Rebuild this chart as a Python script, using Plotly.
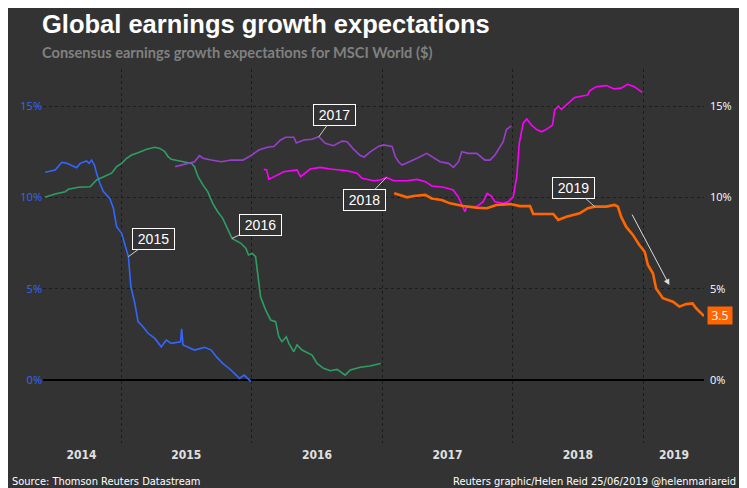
import plotly.graph_objects as go

# consensus earnings growth expectations, %
d2015 = ['2014-06-02', '2014-06-30', '2014-07-19', '2014-08-02', '2014-08-29', '2014-09-08',
         '2014-09-26', '2014-10-03', '2014-10-10', '2014-10-18', '2014-10-24', '2014-11-02',
         '2014-11-12', '2014-11-30', '2014-12-10', '2014-12-19', '2015-01-02', '2015-01-11',
         '2015-01-21', '2015-01-28', '2015-02-08', '2015-02-17', '2015-03-03', '2015-03-17',
         '2015-04-05', '2015-04-23', '2015-05-07', '2015-05-21', '2015-06-16', '2015-06-19',
         '2015-06-23', '2015-07-25', '2015-08-22', '2015-09-10', '2015-09-24', '2015-10-12',
         '2015-11-04', '2015-11-28', '2015-12-11', '2015-12-30']
v2015 = [11.38, 11.5, 11.93, 11.87, 11.63, 11.87,
         12.0, 11.87, 12.05, 11.78, 11.33, 10.78,
         10.32, 9.95, 9.41, 8.4, 8.04, 7.49,
         6.76, 5.11, 4.2, 3.2, 2.92, 2.56,
         2.28, 1.82, 2.19, 2.01, 2.1, 2.8,
         1.92, 1.64, 1.79, 1.64, 1.28, 0.91,
         0.55, 0.09, 0.27, -0.09]

d2016 = ['2014-06-01', '2014-06-30', '2014-07-28', '2014-08-06', '2014-09-03', '2014-10-06',
         '2014-10-24', '2014-11-12', '2014-12-05', '2014-12-19', '2015-01-02', '2015-01-16',
         '2015-01-30', '2015-02-17', '2015-03-13', '2015-04-05', '2015-04-19', '2015-05-03',
         '2015-05-12', '2015-05-21', '2015-06-09', '2015-07-02', '2015-07-17', '2015-07-25',
         '2015-08-04', '2015-08-18', '2015-08-31', '2015-09-14', '2015-09-28', '2015-10-12',
         '2015-10-26', '2015-11-07', '2015-12-02', '2015-12-16', '2015-12-23', '2016-01-03',
         '2016-01-12', '2016-01-18', '2016-01-26', '2016-02-09', '2016-02-23', '2016-03-08',
         '2016-03-17', '2016-03-26', '2016-04-07', '2016-04-14', '2016-04-28', '2016-05-07',
         '2016-05-21', '2016-06-18', '2016-07-02', '2016-07-20', '2016-08-08', '2016-08-27',
         '2016-09-19', '2016-10-03', '2016-10-31', '2016-11-27', '2016-12-27']
v2016 = [10.01, 10.19, 10.32, 10.45, 10.56, 10.59,
         10.96, 11.14, 11.33, 11.69, 11.87, 12.15,
         12.33, 12.45, 12.64, 12.75, 12.69, 12.51,
         12.24, 12.09, 12.02, 11.96, 11.87, 11.69,
         11.14, 10.68, 10.32, 9.68, 9.22, 8.86,
         8.22, 7.76, 7.49, 7.21, 6.85, 6.94,
         6.76, 5.85, 4.56, 3.84, 3.29, 3.2,
         2.37, 2.1, 2.37, 2.01, 1.55, 1.92,
         1.64, 1.37, 0.91, 0.64, 0.51, 0.58,
         0.27, 0.55, 0.7, 0.77, 0.91]

d2017 = ['2015-06-01', '2015-06-27', '2015-07-25', '2015-08-08', '2015-08-18', '2015-09-10',
         '2015-10-08', '2015-11-04', '2015-12-07', '2015-12-29', '2016-01-21', '2016-02-14',
         '2016-03-03', '2016-03-22', '2016-04-05', '2016-04-28', '2016-05-05', '2016-05-26',
         '2016-06-18', '2016-07-07', '2016-07-25', '2016-08-17', '2016-09-10', '2016-09-24',
         '2016-10-12', '2016-10-31', '2016-11-11', '2016-11-28', '2016-12-21', '2017-01-04',
         '2017-01-28', '2017-02-06', '2017-02-15', '2017-02-25', '2017-03-20', '2017-04-08',
         '2017-05-05', '2017-05-19', '2017-06-11', '2017-07-05', '2017-07-19', '2017-08-02',
         '2017-08-11', '2017-08-29', '2017-09-22', '2017-10-15', '2017-10-29', '2017-11-12',
         '2017-11-21', '2017-12-05', '2017-12-14', '2017-12-28']
v2017 = [11.69, 11.82, 11.96, 12.29, 12.15, 12.05,
         11.96, 12.05, 12.05, 12.29, 12.6, 12.75,
         12.79, 13.15, 13.3, 13.3, 12.99, 13.15,
         13.19, 13.33, 12.97, 12.84, 13.09, 13.05,
         12.65, 12.3, 12.22, 12.5, 12.8, 12.88,
         12.79, 12.24, 11.96, 11.78, 11.96, 12.15,
         12.42, 12.24, 11.96, 11.87, 11.65, 11.96,
         12.51, 12.42, 12.42, 12.05, 12.05, 12.33,
         12.6, 13.06, 13.73, 13.92]

d2018 = ['2016-02-04', '2016-02-12', '2016-02-18', '2016-03-03', '2016-03-31', '2016-05-07',
         '2016-05-17', '2016-06-13', '2016-07-11', '2016-08-08', '2016-09-24', '2016-10-22',
         '2016-11-05', '2016-12-07', '2016-12-26', '2017-01-12', '2017-02-01', '2017-03-11',
         '2017-04-08', '2017-05-01', '2017-05-19', '2017-06-21', '2017-07-18', '2017-08-01',
         '2017-08-15', '2017-08-20', '2017-08-25', '2017-09-22', '2017-10-10', '2017-10-21',
         '2017-11-02', '2017-11-12', '2017-12-05', '2017-12-19', '2018-01-02', '2018-01-12',
         '2018-01-19', '2018-01-30', '2018-02-09', '2018-02-22', '2018-03-08', '2018-03-22',
         '2018-04-05', '2018-04-22', '2018-04-28', '2018-05-08', '2018-05-17', '2018-06-04',
         '2018-06-23', '2018-07-30', '2018-08-04', '2018-08-22', '2018-09-19', '2018-10-12',
         '2018-10-31', '2018-11-18', '2018-12-07', '2018-12-29']
v2018 = [11.54, 11.51, 10.99, 11.14, 11.41, 11.51,
         11.14, 11.56, 11.65, 11.56, 11.47, 11.33,
         11.05, 10.92, 10.96, 11.1, 10.92, 10.92,
         10.99, 10.87, 10.63, 10.56, 10.41, 10.04,
         9.5, 9.22, 9.5, 9.5, 9.77, 10.23,
         10.08, 9.77, 9.68, 9.77, 10.04, 11.14,
         12.97, 14.07, 14.3, 13.97, 13.73, 13.6,
         13.73, 13.97, 14.79, 15.01, 14.83, 15.15,
         15.48, 15.62, 15.85, 16.07, 16.13, 15.95,
         15.99, 16.2, 16.07, 15.76]

d2019 = ['2017-02-03', '2017-02-20', '2017-03-11', '2017-03-29', '2017-05-01', '2017-05-19',
         '2017-06-16', '2017-07-09', '2017-08-15', '2017-09-22', '2017-10-20', '2017-11-16',
         '2017-12-25', '2018-01-21', '2018-02-18', '2018-02-27', '2018-03-27', '2018-04-24',
         '2018-05-08', '2018-05-31', '2018-07-07', '2018-07-30', '2018-08-18', '2018-09-19',
         '2018-10-13', '2018-10-22', '2018-10-31', '2018-11-14', '2018-12-03', '2018-12-21',
         '2019-01-05', '2019-01-14', '2019-01-28', '2019-02-06', '2019-02-25', '2019-03-25',
         '2019-04-12', '2019-05-01', '2019-05-19', '2019-05-29', '2019-06-20']
v2019 = [10.23, 10.14, 10.01, 10.08, 10.14, 9.95,
         9.86, 9.68, 9.53, 9.44, 9.41, 9.59,
         9.64, 9.53, 9.53, 9.1, 9.1, 9.1,
         8.77, 8.95, 9.13, 9.41, 9.5, 9.5,
         9.59, 9.5, 8.95, 8.4, 7.95, 7.4,
         7.03, 6.3, 5.85, 5.02, 4.48, 4.29,
         4.02, 4.16, 4.2, 3.93, 3.51]

year_starts = ['2015-01-01', '2016-01-01', '2017-01-01', '2018-01-01', '2019-01-01']
year_label_dates = ['2014-09-12', '2015-07-02', '2016-07-02', '2017-07-02', '2018-07-02', '2019-03-28']
year_labels = ['2014', '2015', '2016', '2017', '2018', '2019']
pct_vals = [0, 5, 10, 15]
pct_text = ['0%', '5%', '10%', '15%']

series = [
    ('2015', d2015, v2015, '#3366ff', 1.6),
    ('2016', d2016, v2016, '#2e9e64', 1.6),
    ('2017', d2017, v2017, '#9640cc', 1.6),
    ('2018', d2018, v2018, '#ff00ff', 1.6),
    ('2019', d2019, v2019, '#ff6600', 2.6),
]

bg = '#333333'
narrow = 'DejaVu Sans Condensed, Liberation Sans Narrow, sans-serif'

fig = go.Figure()
for nome, xs, ys, cor, w in series:
    fig.add_trace(go.Scatter(x=xs, y=ys, mode='lines', name=nome,
                             line=dict(color=cor, width=w), hoverinfo='x+y'))

# dummy trace so the right axis gets drawn
fig.add_trace(go.Scatter(x=[d2019[-1]], y=[v2019[-1]], yaxis='y2', mode='markers',
                         marker=dict(opacity=0), showlegend=False, hoverinfo='skip'))

# labels on the lines: (series, date, value, dx, dy)
rotulos = [
    ('2015', d2015[18], v2015[18], 25, -18),
    ('2016', d2016[31], v2016[31], 28, -13),
    ('2017', d2017[19], v2017[19], 16, -22),
    ('2018', d2018[15], v2018[15], -22, 23),
    ('2019', d2019[22], v2019[22], -21, -19),
]
for txt, xd, yd, dx, dy in rotulos:
    fig.add_annotation(x=xd, y=yd, text=txt, showarrow=True, arrowhead=0, arrowwidth=1,
                       arrowcolor='#cccccc', ax=dx, ay=dy, bgcolor=bg, bordercolor='white',
                       borderwidth=1, borderpad=0, width=41, height=20,
                       font=dict(family='Arial, Liberation Sans', size=14, color='white'))

# arrow showing the drop in 2019 expectations
fig.add_annotation(x='2019-03-15', y=5.2, text='', showarrow=True, arrowhead=2, arrowsize=1.2,
                   arrowwidth=1, arrowcolor='#dddddd', ax=-38, ay=-72)

# last value tag
fig.add_annotation(xref='paper', x=1, xanchor='left', xshift=3, y=v2019[-1], text='3.5',
                   showarrow=False, bgcolor='#ff6600', width=24, height=17, borderpad=0,
                   font=dict(family='Open Sans', size=12, color='white'))

fig.add_annotation(xref='paper', yref='paper', x=-0.004, y=1.163, xanchor='left', yanchor='top',
                   text='<b>Global earnings growth expectations</b>', showarrow=False,
                   font=dict(family='Arial, Liberation Sans', size=25.5, color='white'))
fig.add_annotation(xref='paper', yref='paper', x=-0.004, y=1.045, xanchor='left', yanchor='middle',
                   text='<b>Consensus earnings growth expectations for MSCI World ($)</b>',
                   showarrow=False, font=dict(family='Lato', size=14.6, color='#808080'))
fig.add_annotation(xref='paper', yref='paper', x=-0.05, y=-0.102, xanchor='left', yanchor='middle',
                   text='Source: Thomson Reuters Datastream', showarrow=False,
                   font=dict(family=narrow, size=11, color='white'))
fig.add_annotation(xref='paper', yref='paper', x=1.051, y=-0.102, xanchor='right', yanchor='middle',
                   text='Reuters graphic/Helen Reid 25/06/2019 @helenmariareid', showarrow=False,
                   font=dict(family=narrow, size=11, color='white'))

# the page body adds an 8px offset, so the figure is drawn 8px smaller
fig.update_layout(
    width=739, height=480,
    margin=dict(l=33, r=43, t=61, b=45),
    paper_bgcolor=bg, plot_bgcolor=bg,
    showlegend=False,
    xaxis=dict(type='date', range=['2014-05-27', '2019-06-20'],
               tickvals=year_label_dates, ticktext=year_labels, ticks='', showgrid=False,
               zeroline=False, showline=False, ticklabelstandoff=3,
               tickfont=dict(family=narrow, size=12, color='#e0e0e0', weight='bold'),
               minor=dict(tickvals=year_starts, showgrid=True, gridcolor='#1c1c1c',
                          griddash='dot', gridwidth=1, ticks='')),
    yaxis=dict(range=[-3.45, 17.04], tickvals=pct_vals, ticktext=pct_text,
               showgrid=True, gridcolor='#1c1c1c', griddash='dot', gridwidth=1,
               zeroline=True, zerolinecolor='black', zerolinewidth=1.5,
               tickfont=dict(family='Open Sans', size=11, color='#3366ff'), ticks=''),
    yaxis2=dict(range=[-3.45, 17.04], tickvals=pct_vals, ticktext=pct_text, overlaying='y',
                side='right', showgrid=False, zeroline=False, ticklabelstandoff=5,
                tickfont=dict(family='Open Sans', size=11, color='white'), ticks=''),
)

fig.write_html('out.html')
